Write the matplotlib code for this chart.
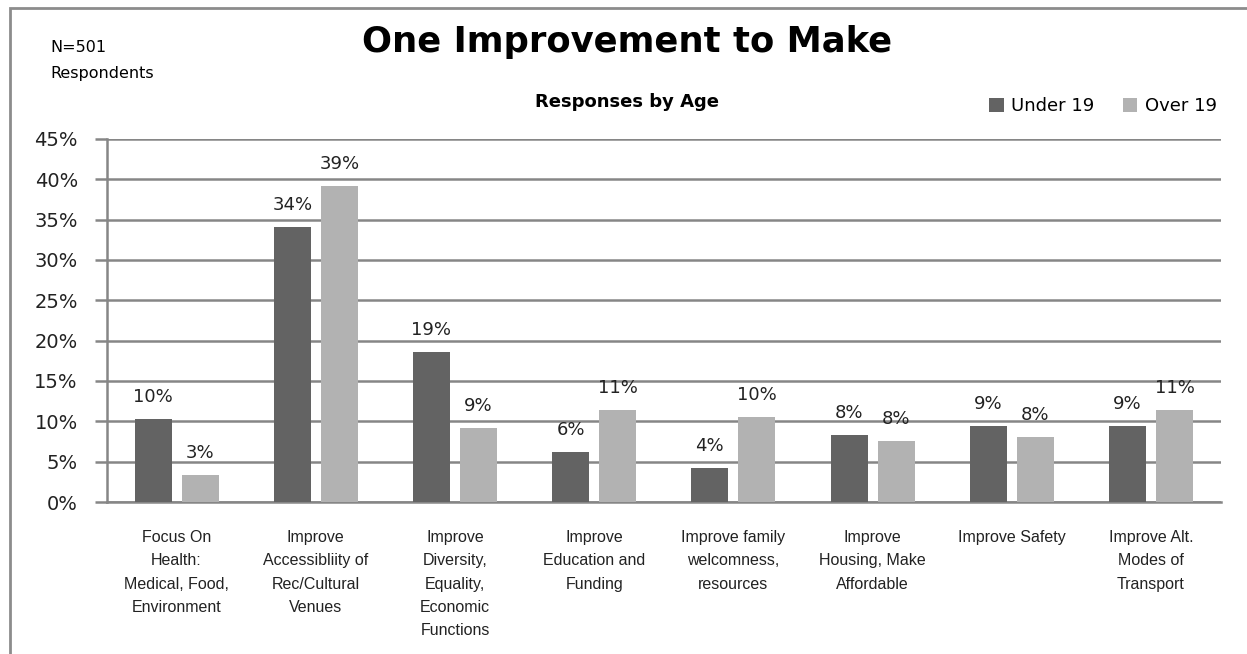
import numpy as np
import matplotlib
matplotlib.use('Agg')
import matplotlib.pyplot as plt
from matplotlib.patches import Rectangle

# data
categories = ['Focus On\nHealth:\nMedical, Food,\nEnvironment',
              'Improve\nAccessibliity of\nRec/Cultural\nVenues',
              'Improve\nDiversity,\nEquality,\nEconomic\nFunctions',
              'Improve\nEducation and\nFunding',
              'Improve family\nwelcomness,\nresources',
              'Improve\nHousing, Make\nAffordable',
              'Improve Safety',
              'Improve Alt.\nModes of\nTransport']
under19 = [10.3, 34.1, 18.6, 6.2, 4.2, 8.3, 9.4, 9.4]
over19 = [3.3, 39.2, 9.2, 11.4, 10.5, 7.6, 8.1, 11.4]
under19_labels = ['10%', '34%', '19%', '6%', '4%', '8%', '9%', '9%']
over19_labels = ['3%', '39%', '9%', '11%', '10%', '8%', '8%', '11%']
yticks = [0, 5, 10, 15, 20, 25, 30, 35, 40, 45]

dark = '#636363'
light = '#b2b2b2'
grid = '#868686'

fig = plt.figure(figsize=(12.47, 6.54), dpi=100)
ax = fig.add_axes([0.0858, 0.2324, 0.893, 0.5551])

x = np.arange(len(categories))
w = 0.266
off = 0.169
ax.bar(x - off, under19, w, color=dark, label='Under 19', zorder=3)
ax.bar(x + off, over19, w, color=light, label='Over 19', zorder=3)

for i in range(len(x)):
    ax.text(x[i] - off, under19[i] + 1.6, under19_labels[i], ha='center', va='bottom',
            fontsize=13, color='#222222')
    ax.text(x[i] + off, over19[i] + 1.6, over19_labels[i], ha='center', va='bottom',
            fontsize=13, color='#222222')

ax.set_xlim(-0.5, len(x) - 0.5)
ax.set_ylim(0, 45)
ax.set_yticks(yticks)
ax.set_yticklabels(['%d%%' % v for v in yticks], fontsize=14, color='#222222')
ax.set_xticks(x)
ax.set_xticklabels(categories, fontsize=11.5, family='Liberation Sans', linespacing=1.7,
                   va='top', color='#222222')
ax.tick_params(axis='x', length=0, pad=20)
ax.tick_params(axis='y', length=9, width=1.8, color=grid, pad=12)
ax.grid(axis='y', color=grid, lw=1.8, zorder=0)
for s in ['top', 'right']:
    ax.spines[s].set_visible(False)
ax.spines['left'].set_color(grid)
ax.spines['left'].set_linewidth(1.8)
ax.spines['bottom'].set_color(grid)
ax.spines['bottom'].set_linewidth(1.8)

fig.text(0.503, 0.936, 'One Improvement to Make', ha='center', va='center',
         fontsize=25.5, fontweight='bold')
fig.text(0.503, 0.844, 'Responses by Age', ha='center', va='center',
         fontsize=13, fontweight='bold')
fig.text(0.040, 0.928, 'N=501', ha='left', va='center', fontsize=11.5)
fig.text(0.040, 0.888, 'Respondents', ha='left', va='center', fontsize=11.5)

ax.legend(loc='lower right', bbox_to_anchor=(1.003, 1.045), ncol=2, frameon=False,
          fontsize=13, handlelength=0.8, handleheight=0.8, handletextpad=0.4,
          columnspacing=1.6, borderaxespad=0)

fig.patches.append(Rectangle((0.008, -0.05), 1.1, 1.038, transform=fig.transFigure,
                             fill=False, edgecolor='#8c8c8c', lw=2))

fig.savefig('out.png', dpi=100)
